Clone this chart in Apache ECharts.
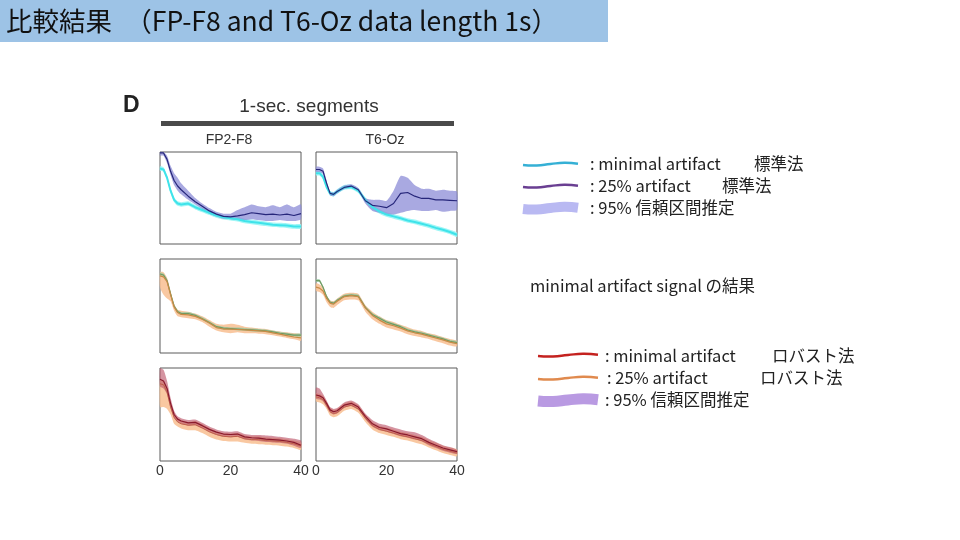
<!DOCTYPE html>
<html><head><meta charset="utf-8">
<script src="https://cdn.jsdelivr.net/npm/echarts@6/dist/echarts.min.js"></script>
<style>html,body{margin:0;padding:0;background:#fff}#c{width:960px;height:540px}</style>
</head><body><div id="c"></div><script>
// x positions (frequency bins) shared by all panels
const xs = [0,1,2,3,4,5,6,8,10,12,14,16,18,20,22,24,26,28,30,32,34,36,38,40];
const xTicks = [0,20,40];

// Panel 1: FP2-F8, standard method
const p1Cyan   = [82,81,72,58,48,44,43,44,40,37,34,31,29,28,27,25,24,23,22,21,20.5,20,19,19];
const p1Purple = [99,99,92,79,69,63,59,52,46,41,36,32.5,30,29.5,30.5,32,34,33,32,32.5,31.5,32.5,31,33];
const p1PurpleHi = [100,100,96,85,77,72,66,58,50,44,39,35,33,33,37,40,43,41,40,42,40,43,40,43];
const p1PurpleLo = [96,96,88,75,64,58,54,48,43,38,33,30,27.5,27,26,26,27,26,25,25,26,25,25,27];

// Panel 2: T6-Oz, standard method
const p2Cyan   = [77,77,73,62,55,54,57,61.5,62,58,48,40,35.5,32,30,28,25.5,24,22,20,17.5,15.5,13,10];
const p2Purple = [81,81,79,66,55,54,57,61.5,63,59,47,42,41,39.5,44,55,56,52,49.5,49.5,48,48,47.5,47];
const p2PurpleHi = [84,84,82,69,57,56,59,63.5,65,61,50,48,48,47,58,74,72,64,60,60,58,59,58,57];
const p2PurpleLo = [78,78,76,63,53,52,55,59.5,61,57,44,36,34,32,32,34,36,37,36,36,37,35,36,37];

// Panel 3: FP2-F8, minimal artifact signal
const p3Green  = [84,83,77,63,50,44,42,42,40,36.5,32.5,28,26.5,26,25.5,25,24.5,24,23.5,22.5,21,20,19,19];
const p3Orange = [82,81,76,62,49,43,41,40.5,39,36,32,27,25.5,25.5,25,24.5,24,23.5,23,21.5,20,18.5,17,16];
const p3PeachHi = [86,86,80,66,52,46,45,44,42,39,35,31,30,31,30,28,27,26,25.5,24,23,22,21,20];
const p3PeachLo = [70,62,58,55,45,39,38,37,36,33,28,24,22,21,22,21,21,20.5,20,19,17.5,16,14.5,13];

// Panel 4: T6-Oz, minimal artifact signal
const p4Green  = [77,77,70,60,54,53,56,60.5,61.5,60.5,48.5,41,37,33,30.5,28,24.5,22.5,21,19,17,15,12.5,11];
const p4Orange = [70,69,66,58,53,52,55,60,61,60,48,40,35,31,29,26.5,23.5,21.5,20,18,16,14,11.5,10];
const p4PeachHi = [74,73,70,62,56,55,58,63,64,63,51,44,39,35,33,30,27.5,25,23.5,21,19.5,17,15,13];
const p4PeachLo = [66,65,62,54,49,48,51,56,57,56,44,36,31,27,25,23,20,18,16.5,15,12.5,10.5,8,7];

// Panel 5: FP2-F8, robust method
const p5Red    = [88,86,78,62,50,45,43,41,41.5,38,34,31,29,28.5,29,26,25,24.5,23.5,23,22.5,21.5,20,17];
const p5Orange = [83,82,74,58,47,42,40,38.5,39,35.5,31.5,28.5,26.5,26,26.5,24,23,23,22,21.5,21,20,18.5,16];
const p5RedHi  = [100,98,86,68,54,48,46,44,44.5,41,37,34,32,31.5,32,29,28,28,27.5,27,26,25,24,22];
const p5RedLo  = [80,78,72,57,46,42,40,38,38.5,35,31,28,26,25.5,26,23,22,21.5,20.5,20,19.5,18.5,16.5,14];
const p5PeachHi = [87,86,78,62,51,46,44,42,43,39.5,35.5,32,30,29.5,30,27.5,26.5,26.5,25.5,25,24.5,23.5,22,20];
const p5PeachLo = [58,58,56,50,40,37,35,33,33,30,26,23,21.5,21,21,19.5,18.5,18,17.5,17,16.5,15.5,14,12];

// Panel 6: T6-Oz, robust method
const p6Red    = [71,70,68,62,55,53,54,60,62,58,48,40,36,34.5,32,29.5,28,26,24,20,17,14,12,10];
const p6Orange = [69,68,66,60,53,51,52,58,60,56,46,38,34,32,30,27.5,26,24,22,18.5,15.5,12.5,10.5,8.5];
const p6RedHi  = [79,78,72,65,58,56,57,63,65,61,51,44,40,38.5,36,34,32,31,28,24,20.5,17,15,12];
const p6RedLo  = [67,66,64,58,52,50,51,57,59,55,45,37,33,31.5,29,26.5,25,23,21,17,14,11,9,7.5];
const p6PeachHi = [73,72,70,64,57,55,56,62,64,60,50,42,38,36,34,31.5,30,28,26,22.5,19.5,16.5,14.5,12.5];
const p6PeachLo = [64,63,61,56,49,47,48,54,56,52,42,34,30,28,26,23.5,22,20,18,14.5,11.5,8.5,6.5,5];

const grids = [
  {left:160, top:152, width:141, height:92},
  {left:316, top:152, width:141, height:92},
  {left:160, top:259, width:141, height:94},
  {left:316, top:259, width:141, height:94},
  {left:160, top:368, width:141, height:93},
  {left:316, top:368, width:141, height:93}
].map(g => Object.assign({show:true, borderColor:'#5a5a5a', borderWidth:1, backgroundColor:'#fff', outerBoundsMode:'none'}, g));

const xAxes = grids.map((g,i) => ({
  type:'value', gridIndex:i, min:0, max:40, interval:20,
  axisLine:{show:false}, axisTick:{show:false}, splitLine:{show:false},
  axisLabel:{show:i>=4, color:'#333', fontSize:14, margin:3, fontFamily:'Liberation Sans',
    formatter: v => xTicks.indexOf(v) >= 0 ? String(v) : ''}
}));
const yAxes = grids.map((g,i) => ({
  type:'value', gridIndex:i, min:0, max:100, show:false, splitLine:{show:false}
}));

const pts = ys => xs.map((x,i) => [x, ys[i]]);
function line(gi, ys, color, width, z){
  return {type:'line', xAxisIndex:gi, yAxisIndex:gi, data:pts(ys), symbol:'none',
    lineStyle:{color:color, width:width}, z:z||3, silent:true, animation:false};
}
// confidence band: one polygon built from the data through the axes' coordinate mapping
function band(gi, lo, hi, color, z){
  return {type:'custom', xAxisIndex:gi, yAxisIndex:gi, z:z||2, silent:true, animation:false,
    data: xs.map((x,i) => [x, lo[i], hi[i]]),
    encode:{x:0, y:[1,2]},
    renderItem: function(params, api){
      if (params.dataIndex !== 0) return null;
      const top = xs.map((x,i) => api.coord([x, hi[i]]));
      const bot = xs.map((x,i) => api.coord([x, lo[i]])).reverse();
      return {type:'polygon', shape:{points: top.concat(bot), smooth:0.2}, style:{fill:color}};
    }};
}
const off = (arr, d) => arr.map(v => v + d);

const CY = '#3fe3ea', CYB = 'rgba(150,245,245,0.9)';
const NV = '#26267a', PB = 'rgba(140,140,215,0.75)';
const GR = '#6f9a62', GRB = 'rgba(150,200,160,0.7)';
const OR = '#c98a45', PEACH = 'rgba(248,190,145,0.85)';
const RD = '#8a1a2c', RDB = 'rgba(190,90,110,0.65)';

const series = [
  band(0, off(p1Cyan,-2.5), off(p1Cyan,2.5), CYB),
  band(0, p1PurpleLo, p1PurpleHi, PB),
  line(0, p1Cyan, CY, 2), line(0, p1Purple, NV, 1.2),
  band(1, off(p2Cyan,-2.5), off(p2Cyan,2.5), CYB),
  band(1, p2PurpleLo, p2PurpleHi, PB),
  line(1, p2Cyan, CY, 2), line(1, p2Purple, NV, 1.2),
  band(2, p3PeachLo, p3PeachHi, PEACH),
  band(2, off(p3Green,-1.5), off(p3Green,1.5), GRB),
  line(2, p3Green, GR, 1.2), line(2, p3Orange, OR, 1.2),
  band(3, p4PeachLo, p4PeachHi, PEACH),
  band(3, off(p4Green,-1.5), off(p4Green,1.5), GRB),
  line(3, p4Green, GR, 1.2), line(3, p4Orange, OR, 1.2),
  band(4, p5PeachLo, p5PeachHi, PEACH),
  band(4, p5RedLo, p5RedHi, RDB),
  line(4, p5Orange, '#c0604a', 1), line(4, p5Red, RD, 1.2),
  band(5, p6PeachLo, p6PeachHi, PEACH),
  band(5, p6RedLo, p6RedHi, RDB),
  line(5, p6Orange, '#c0604a', 1), line(5, p6Red, RD, 1.2)
];

const JP = '"Noto Sans CJK JP", "Noto Sans", sans-serif';
const HV = '"Liberation Sans", Arial, sans-serif';
function txt(x, y, s, size, fill){
  return {type:'text', x:x, y:y, silent:true,
    style:{text:s, fill:fill||'#222', font:size+'px '+JP, textVerticalAlign:'middle', textAlign:'left'}};
}
function wave(x0, x1, y, color, w){
  const dx = (x1-x0)/4;
  return {type:'polyline', silent:true, shape:{points:[[x0,y+1],[x0+dx,y+1.5],[x0+2*dx,y],[x0+3*dx,y-1.2],[x1,y-0.3]], smooth:0.5},
    style:{stroke:color, lineWidth:w, fill:null, lineCap:'butt'}};
}

const graphic = [
  {type:'rect', shape:{x:0, y:0, width:608, height:42}, style:{fill:'#9dc3e6'}, silent:true},
  txt(6, 21, '比較結果　（FP-F8 and T6-Oz data length 1s）', 26.5, '#111'),
  // figure header
  {type:'text', x:123, y:106, silent:true, style:{text:'D', font:'bold 23px '+HV, fill:'#222', textVerticalAlign:'middle'}},
  {type:'text', x:309, y:107, silent:true, style:{text:'1-sec. segments', font:'19px '+HV, fill:'#333', textAlign:'center', textVerticalAlign:'middle'}},
  {type:'rect', silent:true, shape:{x:161, y:121, width:293, height:5}, style:{fill:'#4a4a4a'}},
  {type:'text', x:229, y:140, silent:true, style:{text:'FP2-F8', font:'14px '+HV, fill:'#333', textAlign:'center', textVerticalAlign:'middle'}},
  {type:'text', x:385, y:140, silent:true, style:{text:'T6-Oz', font:'14px '+HV, fill:'#333', textAlign:'center', textVerticalAlign:'middle'}},
  // legend 1
  wave(523, 578, 164, '#35b0d5', 2.5),
  wave(523, 578, 186, '#6a3f92', 2.5),
  wave(523, 578, 208, '#b9b9f2', 10),
  txt(590, 164, ': minimal artifact', 16.5),
  txt(754, 164, '標準法', 16.5),
  txt(590, 186, ': 25% artifact', 16.5),
  txt(722, 186, '標準法', 16.5),
  txt(590, 208, ': 95% 信頼区間推定', 16.5),
  txt(530, 286, 'minimal artifact signal の結果', 16.5),
  // legend 2
  wave(538, 598, 355, '#c4221f', 2.5),
  wave(538, 598, 378, '#e08a4e', 2.5),
  wave(538, 598, 400, '#b99ae2', 11),
  txt(605, 356, ': minimal artifact', 16.5),
  txt(772, 356, 'ロバスト法', 16.5),
  txt(607, 378, ': 25% artifact', 16.5),
  txt(760, 378, 'ロバスト法', 16.5),
  txt(605, 400, ': 95% 信頼区間推定', 16.5)
];

const chart = echarts.init(document.getElementById('c'), null, {renderer:'canvas'});
chart.setOption({
  animation:false,
  backgroundColor:'#fff',
  grid:grids, xAxis:xAxes, yAxis:yAxes, series:series, graphic:graphic
});
</script></body></html>
